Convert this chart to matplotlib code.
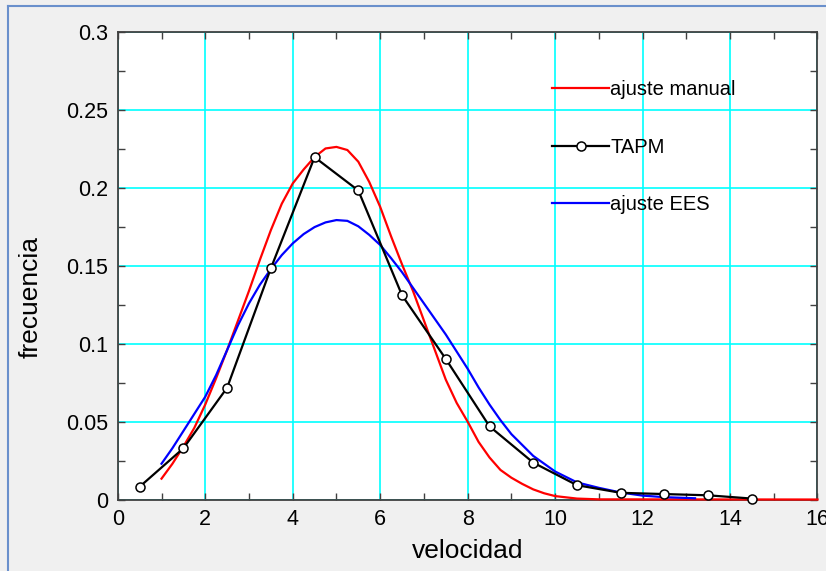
import numpy as np
import matplotlib
matplotlib.use("Agg")
import matplotlib.pyplot as plt
from matplotlib.lines import Line2D
from matplotlib.ticker import MultipleLocator, FormatStrFormatter

plt.rcParams['font.family'] = ['Liberation Sans', 'DejaVu Sans']

# TAPM histogram points
tapm_x = [0.5, 1.5, 2.5, 3.5, 4.5, 5.5, 6.5, 7.5, 8.5, 9.5, 10.5, 11.5, 12.5, 13.5, 14.5]
tapm_y = [0.0082, 0.0329, 0.0718, 0.1485, 0.2199, 0.1985, 0.1312, 0.0903, 0.0470, 0.0237,
          0.0092, 0.0043, 0.0035, 0.0027, 0.0006]

# manual fit (red)
manual_x = [1.0, 1.25, 1.5, 1.75, 2.0, 2.25, 2.5, 2.75, 3.0, 3.25, 3.5, 3.75, 4.0, 4.25,
            4.5, 4.75, 5.0, 5.25, 5.5, 5.75, 6.0, 6.25, 6.5, 6.75, 7.0, 7.25, 7.5, 7.75,
            8.0, 8.25, 8.5, 8.75, 9.0, 9.25, 9.5, 9.75, 10.0, 10.5, 11.0, 16.0]
manual_y = [0.0134, 0.023, 0.034, 0.046, 0.061, 0.078, 0.096, 0.115, 0.134, 0.154, 0.173,
            0.190, 0.203, 0.212, 0.220, 0.2255, 0.2265, 0.2245, 0.217, 0.204, 0.188, 0.169,
            0.151, 0.134, 0.115, 0.096, 0.077, 0.062, 0.050, 0.037, 0.027, 0.019, 0.014,
            0.010, 0.0065, 0.004, 0.0022, 0.0006, 0.0001, 0.0]

# EES fit (blue)
ees_x = [1.0, 1.25, 1.5, 1.75, 2.0, 2.25, 2.5, 2.75, 3.0, 3.25, 3.5, 3.75, 4.0, 4.25,
         4.5, 4.75, 5.0, 5.25, 5.5, 5.75, 6.0, 6.25, 6.5, 6.75, 7.0, 7.25, 7.5, 7.75,
         8.0, 8.25, 8.5, 8.75, 9.0, 9.25, 9.5, 9.75, 10.0, 10.5, 11.0, 11.5, 12.0, 12.5, 13.2]
ees_y = [0.023, 0.033, 0.044, 0.055, 0.066, 0.080, 0.096, 0.112, 0.126, 0.138, 0.148,
         0.157, 0.1645, 0.1705, 0.175, 0.178, 0.1795, 0.179, 0.1755, 0.170, 0.1635, 0.155,
         0.146, 0.136, 0.126, 0.116, 0.106, 0.095, 0.084, 0.072, 0.061, 0.051, 0.042,
         0.035, 0.028, 0.023, 0.018, 0.011, 0.0075, 0.0045, 0.0025, 0.0015, 0.0008]

fig = plt.figure(figsize=(8.26, 5.71), dpi=100, facecolor='#f0f0f0')
ax = fig.add_axes([0.1426, 0.1252, 0.8471, 0.8179])
ax.set_facecolor('white')

ax.plot(manual_x, manual_y, color='#ff0000', lw=1.6, label='ajuste manual', zorder=3, clip_on=False)
ax.plot(tapm_x, tapm_y, color='black', lw=1.6, marker='o', ms=6.5, mfc='white', mec='black',
        mew=1.1, label='TAPM', zorder=4, clip_on=False)
ax.plot(ees_x, ees_y, color='#0000ff', lw=1.6, label='ajuste EES', zorder=3, clip_on=False)

ax.set_xlim(0, 16)
ax.set_ylim(0, 0.3)
ax.xaxis.set_major_locator(MultipleLocator(2))
ax.xaxis.set_minor_locator(MultipleLocator(1))
ax.yaxis.set_major_locator(MultipleLocator(0.05))
ax.yaxis.set_minor_locator(MultipleLocator(0.025))
ax.yaxis.set_major_formatter(FormatStrFormatter('%g'))

ax.grid(True, which='major', color='#00ffff', lw=1.2, zorder=1)
ax.set_axisbelow(True)
ax.tick_params(which='both', direction='in', top=True, right=True, color='#404040',
               labelsize=15.5, width=1)
ax.tick_params(which='major', length=5, pad=7)
ax.tick_params(which='minor', length=5)
for s in ax.spines.values():
    s.set_color('#404040')
    s.set_linewidth(1.3)

ax.set_xlabel('velocidad', fontsize=19)
ax.set_ylabel('frecuencia', fontsize=19)
ax.xaxis.set_label_coords(0.5, -0.085)
ax.yaxis.set_label_coords(-0.108, 0.434)

ax.legend(loc='upper left', bbox_to_anchor=(0.606, 0.92), frameon=False, fontsize=14.5,
          handlelength=2.85, handletextpad=0.05, labelspacing=1.92, borderpad=0)

# window frame lines
fig.add_artist(Line2D([0.0097, 0.0097], [0, 0.9895], color='#6a90cc', lw=1.5))
fig.add_artist(Line2D([0.0097, 1], [0.9895, 0.9895], color='#6a90cc', lw=1.5))

fig.savefig('out.png', dpi=100, facecolor=fig.get_facecolor())
